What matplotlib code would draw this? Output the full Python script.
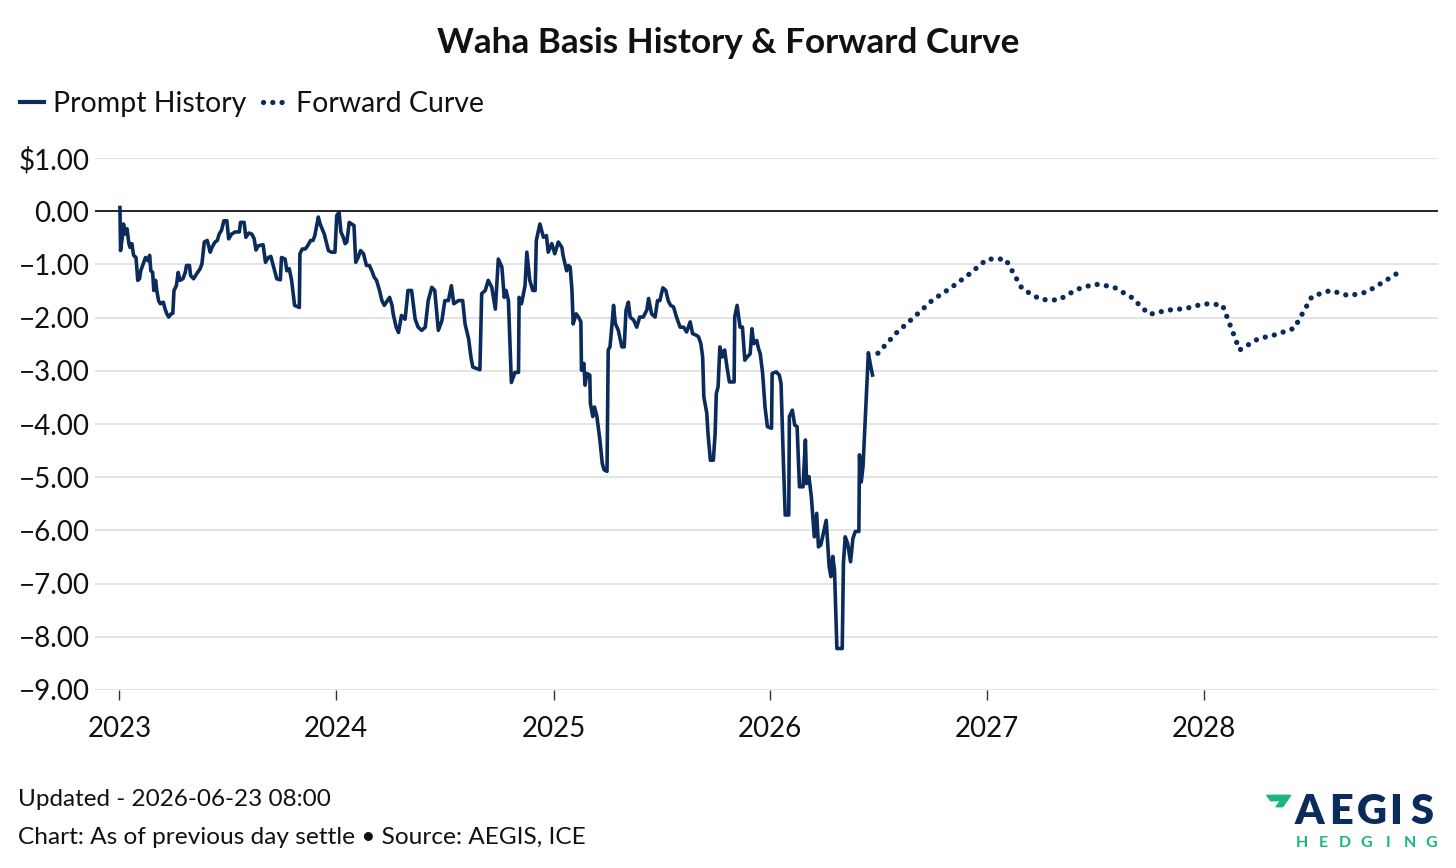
import numpy as np
import pandas as pd
import matplotlib
matplotlib.use("Agg")
import matplotlib.pyplot as plt
import matplotlib.dates as mdates
from matplotlib.patches import Polygon
from matplotlib.lines import Line2D

plt.rcParams['font.family'] = ['Lato', 'DejaVu Sans']

NAVY = '#0b2b5c'
GREEN = '#1bb57d'

# prompt history
hist_dates = [
    '2023-01-02', '2023-01-03', '2023-01-06', '2023-01-08', '2023-01-11', '2023-01-14', '2023-01-17',
    '2023-01-19', '2023-01-22', '2023-01-25', '2023-01-29', '2023-02-01', '2023-02-04', '2023-02-06',
    '2023-02-11', '2023-02-14', '2023-02-18', '2023-02-21', '2023-02-23', '2023-02-26', '2023-02-28',
    '2023-03-03', '2023-03-05', '2023-03-08', '2023-03-11', '2023-03-16', '2023-03-19', '2023-03-22',
    '2023-03-25', '2023-03-29', '2023-04-01', '2023-04-03', '2023-04-07', '2023-04-10', '2023-04-13',
    '2023-04-18', '2023-04-22', '2023-04-24', '2023-04-29', '2023-05-01', '2023-05-06', '2023-05-11',
    '2023-05-17', '2023-05-20', '2023-05-24', '2023-05-29', '2023-06-03', '2023-06-06', '2023-06-11',
    '2023-06-15', '2023-06-18', '2023-06-22', '2023-06-26', '2023-07-01', '2023-07-04', '2023-07-09',
    '2023-07-15', '2023-07-22', '2023-07-24', '2023-07-30', '2023-08-02', '2023-08-07', '2023-08-12',
    '2023-08-16', '2023-08-19', '2023-08-23', '2023-08-31', '2023-09-04', '2023-09-09', '2023-09-13',
    '2023-09-17', '2023-09-23', '2023-09-29', '2023-10-01', '2023-10-07', '2023-10-10', '2023-10-14',
    '2023-10-18', '2023-10-23', '2023-10-31', '2023-11-01', '2023-11-05', '2023-11-10', '2023-11-14',
    '2023-11-19', '2023-11-23', '2023-11-26', '2023-12-02', '2023-12-05', '2023-12-12', '2023-12-19',
    '2023-12-24', '2023-12-30', '2024-01-02', '2024-01-06', '2024-01-09', '2024-01-13', '2024-01-16',
    '2024-01-19', '2024-01-23', '2024-01-31', '2024-02-03', '2024-02-07', '2024-02-11', '2024-02-16',
    '2024-02-21', '2024-02-26', '2024-03-01', '2024-03-05', '2024-03-09', '2024-03-14', '2024-03-18',
    '2024-03-22', '2024-03-31', '2024-04-04', '2024-04-06', '2024-04-11', '2024-04-15', '2024-04-20',
    '2024-04-26', '2024-05-01', '2024-05-07', '2024-05-13', '2024-05-18', '2024-05-24', '2024-05-30',
    '2024-06-04', '2024-06-10', '2024-06-15', '2024-06-21', '2024-06-27', '2024-07-02', '2024-07-08',
    '2024-07-13', '2024-07-17', '2024-07-25', '2024-08-01', '2024-08-05', '2024-08-11', '2024-08-15',
    '2024-08-18', '2024-08-30', '2024-09-02', '2024-09-08', '2024-09-13', '2024-09-19', '2024-09-25',
    '2024-09-30', '2024-10-06', '2024-10-10', '2024-10-13', '2024-10-17', '2024-10-22', '2024-10-28',
    '2024-11-03', '2024-11-04', '2024-11-08', '2024-11-14', '2024-11-17', '2024-11-22', '2024-11-27',
    '2024-12-01', '2024-12-03', '2024-12-09', '2024-12-15', '2024-12-20', '2024-12-23', '2024-12-29',
    '2025-01-03', '2025-01-09', '2025-01-15', '2025-01-17', '2025-01-23', '2025-01-26', '2025-01-29',
    '2025-02-01', '2025-02-03', '2025-02-08', '2025-02-12', '2025-02-16', '2025-02-17', '2025-02-21',
    '2025-02-23', '2025-02-26', '2025-03-03', '2025-03-04', '2025-03-08', '2025-03-11', '2025-03-15',
    '2025-03-20', '2025-03-24', '2025-03-27', '2025-04-01', '2025-04-03', '2025-04-06', '2025-04-09',
    '2025-04-12', '2025-04-15', '2025-04-20', '2025-04-26', '2025-04-30', '2025-05-03', '2025-05-07',
    '2025-05-10', '2025-05-16', '2025-05-21', '2025-05-26', '2025-06-01', '2025-06-07', '2025-06-10',
    '2025-06-15', '2025-06-21', '2025-06-25', '2025-06-29', '2025-07-04', '2025-07-09', '2025-07-13',
    '2025-07-17', '2025-07-22', '2025-07-27', '2025-08-02', '2025-08-08', '2025-08-13', '2025-08-19',
    '2025-08-23', '2025-08-29', '2025-09-02', '2025-09-06', '2025-09-09', '2025-09-11', '2025-09-16',
    '2025-09-18', '2025-09-22', '2025-09-27', '2025-09-30', '2025-10-02', '2025-10-05', '2025-10-08',
    '2025-10-12', '2025-10-16', '2025-10-20', '2025-10-24', '2025-11-01', '2025-11-02', '2025-11-06',
    '2025-11-11', '2025-11-15', '2025-11-19', '2025-11-23', '2025-11-28', '2025-12-01', '2025-12-04',
    '2025-12-09', '2025-12-12', '2025-12-15', '2025-12-19', '2025-12-23', '2025-12-27', '2026-01-03',
    '2026-01-04', '2026-01-11', '2026-01-16', '2026-01-19', '2026-01-23', '2026-01-26', '2026-02-01',
    '2026-02-02', '2026-02-07', '2026-02-11', '2026-02-15', '2026-02-19', '2026-02-25', '2026-03-01',
    '2026-03-03', '2026-03-07', '2026-03-11', '2026-03-16', '2026-03-20', '2026-03-23', '2026-03-27',
    '2026-04-05', '2026-04-10', '2026-04-13', '2026-04-16', '2026-04-19', '2026-04-23', '2026-05-02',
    '2026-05-04', '2026-05-07', '2026-05-11', '2026-05-16', '2026-05-20', '2026-05-24', '2026-05-30',
    '2026-05-31', '2026-06-03', '2026-06-06', '2026-06-10', '2026-06-15', '2026-06-18', '2026-06-22',
]
hist_values = [
    0.07, -0.74, -0.49, -0.24, -0.43, -0.33, -0.61,
    -0.68, -0.61, -0.83, -0.87, -1.30, -1.27, -1.12,
    -0.96, -0.87, -0.93, -0.83, -1.12, -1.15, -1.49,
    -1.30, -1.49, -1.68, -1.74, -1.71, -1.84, -1.93,
    -1.99, -1.93, -1.92, -1.49, -1.40, -1.15, -1.30,
    -1.27, -1.15, -1.02, -1.02, -1.21, -1.27, -1.18,
    -1.08, -0.99, -0.58, -0.55, -0.77, -0.68, -0.58,
    -0.55, -0.43, -0.36, -0.18, -0.18, -0.52, -0.43,
    -0.39, -0.39, -0.21, -0.21, -0.49, -0.41, -0.43,
    -0.52, -0.73, -0.65, -0.63, -0.96, -0.87, -0.85,
    -1.02, -1.27, -1.29, -0.87, -0.90, -1.12, -1.08,
    -1.30, -1.77, -1.81, -0.80, -0.71, -0.71, -0.65,
    -0.55, -0.55, -0.46, -0.11, -0.24, -0.43, -0.74,
    -0.77, -0.77, -0.08, -0.02, -0.39, -0.49, -0.61,
    -0.58, -0.21, -0.27, -0.96, -0.87, -0.74, -0.80,
    -1.02, -1.02, -1.12, -1.24, -1.30, -1.49, -1.68,
    -1.77, -1.62, -1.77, -1.93, -2.18, -2.28, -1.96,
    -2.03, -1.49, -1.49, -2.03, -2.18, -2.24, -2.18,
    -1.68, -1.43, -1.49, -2.24, -2.06, -1.68, -1.68,
    -1.40, -1.74, -1.68, -1.68, -2.12, -2.40, -2.75,
    -2.93, -2.98, -1.55, -1.49, -1.30, -1.43, -1.84,
    -0.90, -1.05, -1.62, -1.49, -1.68, -3.22, -3.03,
    -3.03, -1.62, -1.74, -1.40, -0.77, -1.30, -1.49,
    -1.49, -0.55, -0.24, -0.49, -0.46, -0.77, -0.61,
    -0.80, -0.58, -0.68, -0.83, -1.12, -1.02, -1.05,
    -1.49, -2.12, -1.93, -1.99, -2.08, -2.99, -2.86,
    -3.27, -3.05, -3.08, -3.61, -3.86, -3.68, -3.86,
    -4.30, -4.74, -4.86, -4.89, -2.61, -2.55, -2.18,
    -1.77, -2.11, -2.24, -2.55, -2.55, -1.86, -1.71,
    -1.99, -2.05, -2.18, -1.99, -1.99, -1.86, -1.64,
    -1.93, -1.99, -1.68, -1.68, -1.44, -1.49, -1.68,
    -1.77, -1.80, -1.99, -2.18, -2.18, -2.27, -2.08,
    -2.30, -2.33, -2.36, -2.49, -2.74, -3.49, -3.80,
    -4.18, -4.68, -4.68, -4.18, -3.43, -3.30, -2.55,
    -2.74, -2.61, -2.93, -3.21, -3.21, -1.99, -1.77,
    -2.18, -2.18, -2.80, -2.74, -2.68, -2.21, -2.49,
    -2.43, -2.58, -2.68, -3.05, -3.68, -4.05, -4.08,
    -3.05, -3.02, -3.08, -3.24, -4.74, -5.71, -5.71,
    -3.86, -3.74, -4.02, -4.05, -5.18, -5.18, -4.30,
    -5.12, -4.99, -5.37, -6.12, -5.68, -6.31, -6.27,
    -5.81, -6.68, -6.87, -6.49, -6.74, -8.22, -8.22,
    -6.62, -6.12, -6.24, -6.59, -6.15, -6.02, -6.02,
    -4.58, -5.09, -4.80, -3.86, -2.66, -2.86, -3.08,
]

# forward curve, monthly contracts
fwd_months = pd.date_range('2026-07-01', '2028-12-01', freq='MS')
fwd_values = [
    -2.67, -2.29, -1.98, -1.67, -1.44, -1.19,
    -0.90, -0.90, -1.46, -1.66, -1.67, -1.47, -1.37, -1.42, -1.62, -1.94, -1.86, -1.83,
    -1.74, -1.76, -2.61, -2.40, -2.32, -2.20, -1.60, -1.49, -1.59, -1.52, -1.31, -1.10,
]

y_ticks = np.arange(-9, 2, 1)
year_ticks = [pd.Timestamp(f'{y}-01-01') for y in range(2023, 2029)]

hist = pd.Series(hist_values, index=pd.to_datetime(hist_dates))
fwd = pd.Series(fwd_values, index=fwd_months)

W, H = 1456, 868
fig = plt.figure(figsize=(W / 100, H / 100), dpi=100)
ax = fig.add_axes([95 / W, 1 - 690 / H, (1438 - 95) / W, (690 - 158) / H])

ax.set_ylim(-9, 1)
ax.set_xlim(pd.Timestamp('2022-11-21'), pd.Timestamp('2029-01-29'))

for v in y_ticks:
    if v == 0:
        continue
    ax.axhline(v, color='#dcdcdc', lw=1.1, zorder=0)
ax.axhline(0, color='black', lw=1.2, zorder=1)

DOTS = (0, (0.01, 1.75))
ax.plot(hist.index, hist.values, color=NAVY, lw=2.6, solid_joinstyle='round', zorder=3)
ax.plot(fwd.index, fwd.values, color=NAVY, lw=3.8, linestyle=DOTS,
        dash_capstyle='round', zorder=3)

for s in ax.spines.values():
    s.set_visible(False)

ax.set_yticks(y_ticks)
ax.set_yticklabels(['$1.00' if v == 1 else f'{v:.2f}'.replace('-', '\u2212') for v in y_ticks])
ax.tick_params(axis='y', length=0, pad=4, labelsize=20, labelcolor='#111111')

ax.set_xticks(year_ticks)
ax.xaxis.set_major_formatter(mdates.DateFormatter('%Y'))
ax.tick_params(axis='x', length=7, width=1, color='#333333', pad=12, labelsize=20,
               labelcolor='#111111')

fig.text(0.5, 1 - 43 / H, 'Waha Basis History & Forward Curve', ha='center', va='center',
         fontsize=25.3, fontweight='bold', color='#111111')

handles = [Line2D([], [], color=NAVY, lw=3.0),
           Line2D([], [], color=NAVY, lw=3.8, linestyle=DOTS, dash_capstyle='round')]
fig.legend(handles, ['Prompt History', 'Forward Curve'], loc='center left',
           bbox_to_anchor=(0.0, 1 - 104 / H), ncol=2, frameon=False, fontsize=20.5,
           handlelength=0.85, handletextpad=0.3, columnspacing=0.6, labelcolor='#111111',
           borderaxespad=0.3)

fig.text(18 / W, 1 - 799 / H, 'Updated - 2026-06-23 08:00', ha='left', va='center',
         fontsize=17.5, color='#111111')
fig.text(18 / W, 1 - 837 / H, 'Chart: As of previous day settle \u2022 Source: AEGIS, ICE',
         ha='left', va='center', fontsize=17.6, color='#111111')

# AEGIS logo
mark = [(1266.7, 795.3), (1290.7, 795.3), (1282.7, 806.7), (1276, 806.7),
        (1280.7, 800.7), (1270.7, 800.7)]
fig.patches.append(Polygon([(x / W, 1 - y / H) for x, y in mark], closed=True,
                           transform=fig.transFigure, color=GREEN))
for ch, cx in zip('AEGIS', [1309, 1341, 1372, 1396, 1422]):
    fig.text(cx / W, 1 - 812 / H, ch, ha='center', va='center', fontsize=30,
             fontweight='heavy', color=NAVY)
for i, ch in enumerate('HEDGING'):
    fig.text((1302 + i * 21.5) / W, 1 - 843 / H, ch, ha='center', va='center',
             fontsize=11.5, fontweight='bold', color=GREEN)

fig.savefig('out.png', dpi=100)
